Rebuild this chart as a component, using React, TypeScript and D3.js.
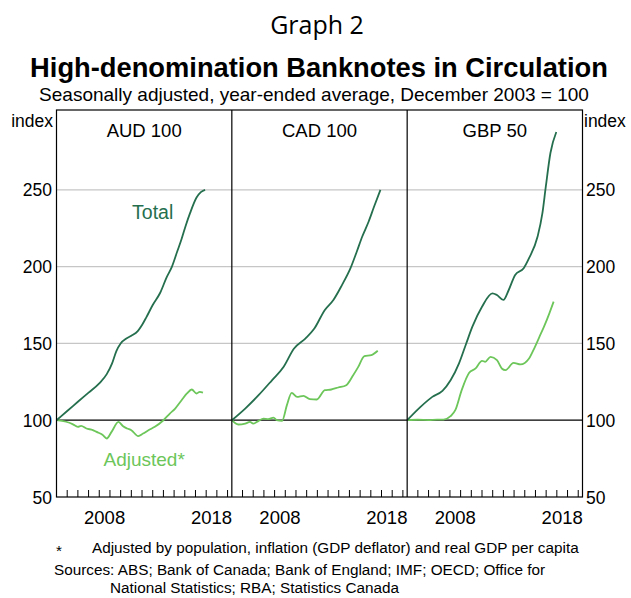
import React from 'react';
import * as d3 from 'd3';

// [year, index], Dec 2003 = 100
const audTotal: [number, number][] = [
  [2004.0, 100], [2005.0, 106], [2006.0, 112], [2007.0, 118], [2008.0, 124],
  [2008.7, 130], [2009.2, 137], [2009.6, 145], [2010.0, 150], [2010.5, 153],
  [2011.0, 155], [2011.6, 158], [2012.0, 162], [2012.4, 167], [2013.0, 175],
  [2013.7, 183], [2014.3, 193], [2014.8, 200], [2015.3, 210], [2015.7, 218],
  [2016.1, 227], [2016.5, 235], [2017.1, 245], [2017.5, 248.5], [2017.9, 250],
];
const audAdjusted: [number, number][] = [
  [2004.0, 100], [2004.9, 99], [2005.5, 97.5], [2006.0, 95.7], [2006.3, 96.3],
  [2006.8, 94.6], [2007.4, 93.6], [2007.75, 92.4], [2008.3, 90.5], [2008.7, 88.1],
  [2009.15, 92.4], [2009.8, 98.9], [2010.2, 96.2], [2010.6, 94.6], [2011.0, 93.5],
  [2011.65, 89.6], [2012.1, 91.3], [2012.6, 93.5], [2013.2, 95.7], [2014.0, 100],
  [2014.6, 104.3], [2015.1, 107.6], [2015.7, 113], [2016.2, 117.4], [2016.65, 120],
  [2017.1, 117.4], [2017.4, 118.5], [2017.7, 118],
];
const cadTotal: [number, number][] = [
  [2004.0, 100], [2005.25, 107.6], [2006.5, 116.3], [2007.75, 126], [2008.85, 134.8],
  [2009.8, 146.5], [2010.9, 153.3], [2011.7, 159.5], [2012.7, 171.8], [2013.5, 178.3],
  [2014.3, 188], [2015.1, 199], [2015.7, 210], [2016.2, 219.6], [2016.8, 229.4],
  [2017.3, 239], [2017.9, 250],
];
const cadAdjusted: [number, number][] = [
  [2004.0, 100], [2004.6, 97.2], [2005.25, 97.8], [2005.7, 98.9], [2006.0, 97.8],
  [2006.5, 99.6], [2006.95, 101.1], [2007.4, 100.7], [2007.9, 101.7], [2008.2, 100],
  [2008.7, 99.6], [2009.15, 109.8], [2009.6, 117.8], [2010.1, 115.2], [2010.7, 115.9],
  [2011.3, 113.7], [2011.95, 113.5], [2012.7, 119.6], [2013.3, 120], [2013.95, 121.3],
  [2014.7, 122.8], [2015.35, 129.3], [2015.8, 134.4], [2016.4, 141.7], [2017.05, 142.4],
  [2017.65, 145.2],
];
const gbpTotal: [number, number][] = [
  [2004.0, 100], [2005.25, 108.7], [2006.35, 115.2], [2007.3, 119.1], [2008.06, 126],
  [2008.85, 137], [2009.5, 149.5], [2010.1, 160.9], [2011.0, 173.9], [2011.97, 182.6],
  [2012.4, 181.5], [2013.0, 178.3], [2013.5, 184.8], [2014.1, 194.6], [2014.9, 199],
  [2015.4, 205.5], [2016.2, 219.6], [2016.65, 234.8], [2016.97, 252.2], [2017.4, 274],
  [2017.95, 287.7],
];
const gbpAdjusted: [number, number][] = [
  [2004.0, 100], [2005.0, 100.3], [2006.0, 100.1], [2006.8, 100.4], [2007.4, 100.4],
  [2008.06, 102.6], [2008.5, 106.5], [2009.1, 119.6], [2009.8, 130.9], [2010.4, 133.7],
  [2011.0, 138.7], [2011.3, 138], [2011.8, 141.3], [2012.4, 139.1], [2012.85, 133.7],
  [2013.2, 132.6], [2013.95, 137.4], [2014.6, 136.3], [2015.4, 140.2], [2015.9, 147],
  [2016.35, 154], [2016.8, 160.9], [2017.3, 169.6], [2017.7, 177.2],
];

const panelTitles = ['AUD 100', 'CAD 100', 'GBP 50'];
const yTicks = [50, 100, 150, 200, 250];
const yearTicks = d3.range(2005, 2021);
const yearLabels = [2008, 2018];

const panels = [
  { title: panelTitles[0], total: audTotal, adjusted: audAdjusted },
  { title: panelTitles[1], total: cadTotal, adjusted: cadAdjusted },
  { title: panelTitles[2], total: gbpTotal, adjusted: gbpAdjusted },
];

const darkGreen = '#256f4e';
const lightGreen = '#6cc65a';
const font = '"Liberation Sans", Arial, sans-serif';

export default function App() {
  const left = 56.5;
  const right = 582.5;
  const top = 110;
  const bottom = 497;
  const pw = (right - left) / 3;

  const y = d3.scaleLinear().domain([50, 302]).range([bottom, top]);

  return (
    <svg width={631} height={598} style={{ position: 'absolute', left: 0, top: 0, background: '#fff' }}>
      <rect width={631} height={598} fill="#fff" />
      <text x={317} y={34} textAnchor="middle" fontFamily='"Open Sans", sans-serif' fontSize={25}>
        Graph 2
      </text>
      <text x={319} y={77} textAnchor="middle" fontFamily={font} fontWeight="bold" fontSize={27.3}>
        High-denomination Banknotes in Circulation
      </text>
      <text x={314} y={101} textAnchor="middle" fontFamily={font} fontSize={19}>
        Seasonally adjusted, year-ended average, December 2003 = 100
      </text>

      {/* horizontal grid */}
      {[150, 200, 250].map(v => (
        <line key={v} x1={left} x2={right} y1={y(v)} y2={y(v)} stroke="#c6c6c6" strokeWidth={1.2} />
      ))}

      {panels.map((p, i) => {
        const x0 = left + i * pw;
        const x = d3.scaleLinear().domain([2004, 2020.4]).range([x0, x0 + pw]);
        const line = d3
          .line<[number, number]>()
          .x(d => x(d[0]))
          .y(d => y(d[1]))
          .curve(d3.curveMonotoneX);
        return (
          <g key={i}>
            {yearTicks.map(t => (
              <line key={t} x1={x(t)} x2={x(t)} y1={bottom} y2={bottom - 7} stroke="#000" strokeWidth={1} />
            ))}
            {yearLabels.map(t => (
              <text key={t} x={x(t + 0.5)} y={524} textAnchor="middle" fontFamily={font} fontSize={18.5}>
                {t}
              </text>
            ))}
            <text x={x0 + pw / 2} y={137} textAnchor="middle" fontFamily={font} fontSize={18.5}>
              {p.title}
            </text>
            <line x1={x0} x2={x0 + pw} y1={y(100)} y2={y(100)} stroke="#000" strokeWidth={1.2} />
            <path d={line(p.adjusted) || ''} fill="none" stroke={lightGreen} strokeWidth={1.8} />
            <path d={line(p.total) || ''} fill="none" stroke={darkGreen} strokeWidth={1.8} />
            {i === 0 && (
              <>
                <text x={x(2013)} y={219} textAnchor="middle" fontFamily={font} fontSize={19.5} fill={darkGreen}>
                  Total
                </text>
                <text x={x(2012.2)} y={466} textAnchor="middle" fontFamily={font} fontSize={19} fill={lightGreen}>
                  Adjusted*
                </text>
              </>
            )}
          </g>
        );
      })}

      {/* frame */}
      <rect x={left} y={top} width={right - left} height={bottom - top} fill="none" stroke="#000" strokeWidth={1.2} />
      {[1, 2].map(k => (
        <line key={k} x1={left + k * pw} x2={left + k * pw} y1={top} y2={bottom} stroke="#000" strokeWidth={1.2} />
      ))}

      {yTicks.map(v => (
        <g key={v}>
          <text x={52} y={y(v) + 6.5} textAnchor="end" fontFamily={font} fontSize={17.5}>
            {v}
          </text>
          <text x={586} y={y(v) + 6.5} textAnchor="start" fontFamily={font} fontSize={17.5}>
            {v}
          </text>
        </g>
      ))}
      <text x={53} y={127} textAnchor="end" fontFamily={font} fontSize={17.5}>
        index
      </text>
      <text x={584} y={127} textAnchor="start" fontFamily={font} fontSize={17.5}>
        index
      </text>

      <text x={56} y={556} fontFamily={font} fontSize={15.3}>*</text>
      <text x={92} y={553} fontFamily={font} fontSize={15.3}>
        Adjusted by population, inflation (GDP deflator) and real GDP per capita
      </text>
      <text x={54} y={575} fontFamily={font} fontSize={15.3}>
        Sources: ABS; Bank of Canada; Bank of England; IMF; OECD; Office for
      </text>
      <text x={110} y={593} fontFamily={font} fontSize={15.3}>
        National Statistics; RBA; Statistics Canada
      </text>
    </svg>
  );
}
